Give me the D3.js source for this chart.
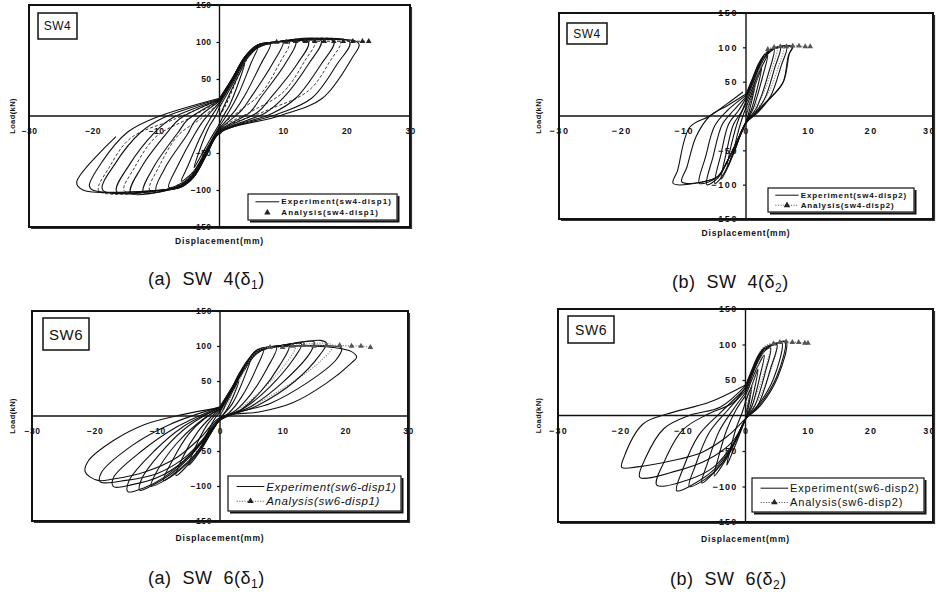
<!DOCTYPE html>
<html>
<head>
<meta charset="utf-8">
<script src="https://cdn.jsdelivr.net/npm/d3@7"></script>
<style>
  body { margin: 0; background: #fff; }
  svg { display: block; }
  text { font-family: "Liberation Sans", Arial, sans-serif; fill: #111; }
</style>
</head>
<body>
<svg id="chart" width="937" height="595"></svg>
<script>
//-----DATA-----//
// displacement (mm), load (kN)
const xTicks = [-30, -20, -10, 0, 10, 20, 30];
const yTicks = [150, 100, 50, -50, -100, -150];

// SW4, delta 1
const sw4Disp1Exp = [
    [[0,0],[1.5,28],[3,55],[4,72],[3.2,50],[1.6,15],[0.6,0],[0,-10],[-1.5,-32],[-3,-55],[-4,-70],[-3.2,-48],[-1.6,-14],[-0.6,0],[0,12]],
    [[0,12],[2,42],[4,74],[6,92],[5,72],[3,30],[1.5,6],[0,-14],[-2,-44],[-4,-74],[-6,-88],[-5,-68],[-3,-28],[-1.5,-4],[0,16]],
    [[0,16],[2,45],[4,75],[6,92],[8,97],[6.5,70],[4,28],[2.5,8],[0,-17],[-2,-46],[-4,-76],[-6,-91],[-8,-96],[-6.5,-66],[-4,-26],[-2.5,-6],[0,18]],
    [[0,18],[2,47],[4,77],[6,93],[8,98],[10,100],[8.3,70],[5,26],[3.5,8],[0,-19],[-2,-48],[-4,-78],[-6,-93],[-8,-99],[-10,-100],[-8.3,-66],[-5,-24],[-3.8,-6],[0,20]],
    [[0,20],[2,48],[4,78],[6,94],[8,98],[12,101],[10.3,70],[6.5,25],[4.8,5],[0,-20],[-2,-49],[-4,-79],[-6,-94],[-8,-100],[-12,-103],[-10.3,-68],[-6.5,-22],[-5,-5],[0,21]],
    [[0,21],[2,49],[4,79],[6,95],[8,99],[14,100],[12.2,70],[8,24],[6,5],[0,-21],[-2,-50],[-4,-80],[-6,-95],[-8,-100],[-14,-104],[-12.2,-68],[-8.2,-22],[-6.3,-4],[0,22]],
    [[0,22],[2,50],[4,80],[6,95],[8,99],[16,102],[14,70],[10,24],[7.2,4],[0,-22],[-2,-51],[-4,-81],[-6,-95],[-9,-100],[-16.2,-102],[-14.2,-66],[-10.2,-22],[-7.5,-3],[0,22]],
    [[0,22],[2,50],[4,80],[6,96],[9,100],[18,101],[16,70],[12,24],[8.2,3],[0,-22],[-2,-51],[-4,-81],[-6,-95],[-9,-100],[-18.4,-100],[-16.4,-64],[-12.4,-22],[-9,-3],[0,23]],
    [[0,23],[2,50],[4,80],[6,96],[9,100],[20.5,100],[18.5,70],[14.5,24],[9,2],[0,-23],[-2,-52],[-4,-82],[-6,-96],[-9,-100],[-20,-100],[-20.5,-94],[-18.5,-62],[-14.5,-22],[-10,-2],[0,24]],
    [[0,24],[2,51],[4,80],[6,96],[9,100],[21.5,101],[22,96],[21,80],[16.2,24],[9.4,0],[0,-23],[-2,-52],[-4,-82],[-6,-96],[-9,-100],[-21.5,-100],[-22.5,-90],[-16.3,-28]]
];
const sw4Disp1AnaLoops = [
    [[0,18],[2,47],[4,76],[6,93],[8,98],[11,100],[9.5,72],[6.5,30],[3,6],[0,-16],[-2,-45],[-4,-75],[-6,-92],[-8,-98],[-11,-100],[-9.5,-68],[-6.5,-26],[-3,-4],[0,18]],
    [[0,20],[2,48],[4,78],[6,94],[8,99],[15,101],[13.4,74],[10,32],[5,6],[0,-18],[-2,-47],[-4,-77],[-6,-93],[-8,-99],[-15,-101],[-13.4,-70],[-10,-28],[-5,-4],[0,20]],
    [[0,22],[2,50],[4,79],[6,95],[8,99],[19,101],[17.4,74],[14,34],[7,6],[0,-20],[-2,-49],[-4,-79],[-6,-94],[-8,-99],[-19,-101],[-17.4,-70],[-14,-30],[-7,-4],[0,22]]
];
const sw4Disp1Ana = [[0,0],[1,15],[2,35],[3,55],[4,72],[5,86],[6,94],[7.5,98],[9,100],[10.5,100],[12,101],[13.5,101],[15,101],[16.5,101],[18,101],[19.5,101],[21,101],[22.5,101],[23.5,101]];

// SW4, delta 2
const sw4Disp2Exp = [
    [[0,0],[0.8,25],[1.5,45],[1,25],[0.3,0],[0,-8],[-1,-30],[-2,-55],[-1.4,-28],[-0.5,0],[0,12]],
    [[0,12],[1,35],[2,58],[2.5,70],[1.8,40],[0.8,8],[0,-8],[-1,-30],[-2,-55],[-3,-75],[-2.3,-40],[-1.2,-5],[0,18]],
    [[0,18],[1,40],[2,62],[3,80],[3.5,88],[2.6,55],[1.2,12],[0,-10],[-1,-30],[-2,-52],[-3,-76],[-4,-92],[-3.2,-55],[-2,-12],[-0.8,5],[0,22]],
    [[0,22],[1,45],[2,68],[3,85],[4.5,97],[3.6,62],[1.8,14],[0,-10],[-1,-30],[-2,-52],[-3,-74],[-4,-90],[-5,-98],[-4,-55],[-2.8,-12],[-1.2,8],[0,26]],
    [[0,26],[1,48],[2,70],[3,86],[4,95],[5.5,100],[4.6,70],[3,25],[1.5,5],[0,-10],[-1.5,-38],[-3,-66],[-4.5,-90],[-6.3,-100],[-5.3,-60],[-3.8,-12],[-2,8],[0,28]],
    [[0,28],[1,50],[2,72],[3,88],[4.5,98],[6.5,101],[5.6,72],[4,30],[2,6],[0,-10],[-1.5,-38],[-3,-66],[-4.5,-88],[-6,-96],[-7.5,-98],[-6.5,-60],[-5,-14],[-3,8],[0,30]],
    [[0,30],[1,52],[2,74],[3,89],[4.5,98],[7.5,100],[7,92],[6,50],[3.5,23],[1.8,8],[0,-10],[-1.5,-38],[-3,-66],[-4.5,-88],[-7,-96],[-10.3,-96],[-9.5,-75],[-8,-30],[-5.8,0],[-3,15],[0,32]],
    [[0,32],[1,54],[2,76],[3,90],[4.5,99],[7.4,101],[6.8,88],[5.9,48],[3.5,22],[1.8,6],[0,-10],[-1.5,-38],[-3,-66],[-4.5,-88],[-7,-96],[-11.7,-98],[-11,-80],[-9,-16],[-5.8,0],[-3,18],[-0.5,35]]
];
const sw4Disp2AnaLoops = [
    [[0,5],[1,35],[2,62],[3,84],[4,96],[5,100],[4.2,70],[2.6,30],[1,8],[0,-5]],
    [[0,10],[1,38],[2,66],[3,88],[4,98],[6,101],[5.2,72],[3.5,32],[1.5,8],[0,-6]]
];
const sw4Disp2Ana = [[0,0],[0.5,15],[1,30],[1.5,45],[2,60],[2.5,75],[3,88],[3.5,97],[4.5,100],[5.5,101],[6.5,101],[7.5,102],[8.5,102],[9.5,101],[10.3,101]];

// SW6, delta 1
const sw6Disp1Exp = [
    [[0,0],[1,18],[2,35],[3,50],[2.2,30],[1,8],[0,-4],[-1,-18],[-2,-32],[-3,-45],[-2.2,-28],[-1,-6],[0,6]],
    [[0,6],[1.5,30],[3,58],[5,85],[4,58],[2,18],[0,-4],[-1.5,-25],[-3,-48],[-5,-70],[-4,-46],[-2,-12],[0,8]],
    [[0,8],[1.5,32],[3,60],[5,86],[7,97],[5.8,68],[3.5,28],[1.5,5],[0,-5],[-2,-32],[-4,-58],[-7,-85],[-6,-60],[-3.5,-22],[-1.5,-2],[0,10]],
    [[0,10],[2,38],[4,68],[6,90],[9,98],[7.5,68],[5,32],[2.5,8],[0,-5],[-2,-30],[-4,-56],[-6.5,-78],[-9,-92],[-7.5,-62],[-5,-26],[-2.5,-4],[0,10]],
    [[0,10],[2,38],[4,68],[6,92],[8,98],[11,100],[9.5,72],[6.5,35],[3.5,10],[0,-6],[-2,-30],[-4,-55],[-7,-80],[-9,-93],[-11,-100],[-10,-78],[-7,-40],[-3.5,-10],[0,11]],
    [[0,11],[2,40],[4,70],[6,92],[9,99],[13,103],[12,85],[8,42],[4,12],[0,-6],[-2.5,-34],[-5,-60],[-8,-84],[-11,-100],[-12.8,-106],[-12.5,-90],[-9,-48],[-5,-14],[0,12]],
    [[0,12],[2,40],[4,70],[6,93],[10,101],[15,106],[14.5,92],[10,48],[5,14],[0,-6],[-3,-38],[-6,-66],[-9,-88],[-12,-102],[-14.7,-108],[-14.5,-92],[-10.5,-50],[-6,-16],[0,12]],
    [[0,12],[2,40],[4,72],[6,94],[11,102],[16,108],[17,104],[16,88],[12,50],[6,15],[0,-6],[-3,-38],[-6,-66],[-10,-88],[-14,-98],[-17,-101],[-17,-88],[-12.5,-50],[-7,-16],[0,13]],
    [[0,13],[2,42],[4,72],[6,94],[12,100],[18,100],[19.4,97],[18.5,80],[14,48],[8,18],[0,-4],[-3,-36],[-6,-62],[-10,-82],[-15,-92],[-19.1,-94],[-19,-82],[-14,-42],[-8,-12],[0,13]],
    [[0,13],[2,42],[4,72],[6,95],[12,100],[18,98],[21,92],[21.8,84],[21,76],[17,47],[11.6,19],[6.4,6],[0,-2],[-3,-30],[-7,-60],[-12,-80],[-17,-90],[-19.5,-92],[-21.5,-80],[-21,-64],[-17,-35],[-12,-12],[-6,2],[0,12]]
];
const sw6Disp1AnaLoops = [
    [[0,5],[2,35],[4,66],[6,90],[8,97],[12,100],[10.5,75],[7,40],[3,10],[0,-3]],
    [[0,8],[2,38],[4,68],[6,92],[10,99],[18,101],[16,78],[11,45],[5,14],[0,-3]]
];
const sw6Disp1Ana = [[0,0],[1,15],[2,32],[3,50],[4,68],[5,83],[6,93],[7,97],[8,98],[10,98],[11.6,100],[13.4,101],[15,100],[17,101],[19.1,101],[21,100],[22.5,100],[24,98]];

// SW6, delta 2
const sw6Disp2Exp = [
    [[0,0],[0.5,20],[1,40],[0.6,18],[0.2,0],[0,-5],[-1,-28],[-2,-50],[-3,-70],[-2.5,-50],[-1.5,-18],[-0.5,5],[0,20]],
    [[0,20],[1,42],[2,65],[1.5,40],[0.6,8],[0,-5],[-1.5,-35],[-3,-60],[-5,-85],[-4.3,-58],[-3,-20],[-1.5,8],[0,28]],
    [[0,28],[1,50],[2,70],[3,85],[2.3,55],[1,12],[0,-5],[-2,-42],[-4,-70],[-7,-95],[-6,-65],[-4.2,-22],[-2,8],[0,32]],
    [[0,32],[1,55],[2,76],[3,90],[4,95],[3.2,62],[1.5,14],[0,-5],[-2,-42],[-4,-70],[-6.5,-90],[-9,-100],[-8,-70],[-5.8,-24],[-3,6],[0,35]],
    [[0,35],[1,58],[2,78],[3,92],[5,100],[4,66],[2,15],[0,-5],[-2,-42],[-5,-76],[-8,-95],[-11,-106],[-10,-75],[-7.5,-28],[-4,4],[0,38]],
    [[0,38],[1,60],[2,80],[3,93],[4.5,100],[5.8,103],[4.4,50],[1.8,12],[0.2,-3],[-2,-40],[-5,-72],[-9,-90],[-14.2,-98],[-13,-65],[-10,-20],[-6,2],[-2,18],[0,40]],
    [[0,40],[1,62],[2,82],[3,94],[5,101],[6.3,104],[5,55],[2,12],[0.2,-3],[-2,-36],[-6,-62],[-11,-78],[-16.9,-87],[-16,-60],[-13,-18],[-9,0],[-4,12],[0,42]],
    [[0,42],[1,64],[2,84],[3,95],[5,102],[6.5,104],[5.2,55],[2.2,12],[0.2,-3],[-3,-30],[-7,-52],[-12,-64],[-17,-72],[-19.8,-73],[-19.5,-60],[-16.4,-12],[-12.6,2],[-5.7,19],[0,43]]
];
const sw6Disp2AnaLoops = [
    [[0,10],[0.5,35],[1,55],[2,80],[3,95],[4,100],[3.3,70],[2,35],[0.8,10],[0,-3]],
    [[0,15],[0.5,40],[1,60],[2,84],[3,97],[5,102],[4.2,68],[2.5,30],[1,8],[0,-3]]
];
const sw6Disp2Ana = [[0,0],[0.5,20],[1,38],[1.5,55],[2,70],[2.5,82],[3,92],[3.5,98],[4.5,101],[5.5,103],[6.5,104],[7.5,103],[8.5,103],[9.5,102],[10,102]];

//-----LAYOUT-----//
const panels = [
    {
        exp: sw4Disp1Exp, anaLoops: sw4Disp1AnaLoops, ana: sw4Disp1Ana, markFrom: 9,
        anaStyle: "dash", legendLine: false,
        left: 29, right: 410, top: 5, bottom: 227,
        tickFont: 8.5, tickSpacing: 0.4,
        tag: "SW4", tagBox: [38, 13, 39, 26], tagFont: 12,
        legend: [248, 194, 149, 26], legendFont: 8, legendSpacing: 1.1, legendBold: true, legendItalic: false,
        expLabel: "Experiment(sw4-disp1)", anaLabel: "Analysis(sw4-disp1)",
        xTitleY: 244, yTitleX: 12,
        caption: ["(a)  SW  4(δ", "1", ")"], capX: 148, capY: 285
    },
    {
        exp: sw4Disp2Exp, anaLoops: sw4Disp2AnaLoops, ana: sw4Disp2Ana, markFrom: 3.5,
        anaStyle: "dot", legendLine: true,
        left: 559, right: 933, top: 13, bottom: 219,
        tickFont: 9, tickSpacing: 1.6,
        tag: "SW4", tagBox: [567, 23, 40, 21], tagFont: 12,
        legend: [768, 188, 146, 24], legendFont: 8, legendSpacing: 0.9, legendBold: true, legendItalic: false,
        expLabel: "Experiment(sw4-disp2)", anaLabel: "Analysis(sw4-disp2)",
        xTitleY: 236, yTitleX: 538,
        caption: ["(b)  SW  4(δ", "2", ")"], capX: 672, capY: 288
    },
    {
        exp: sw6Disp1Exp, anaLoops: sw6Disp1AnaLoops, ana: sw6Disp1Ana, markFrom: 8,
        anaStyle: "dot", legendLine: true,
        left: 32, right: 408, top: 311, bottom: 521,
        tickFont: 8.5, tickSpacing: 0.6,
        tag: "SW6", tagBox: [43, 318, 46, 32], tagFont: 15,
        legend: [228, 476, 173, 35], legendFont: 11.5, legendSpacing: 0.6, legendBold: false, legendItalic: true,
        expLabel: "Experiment(sw6-disp1)", anaLabel: "Analysis(sw6-disp1)",
        xTitleY: 541, yTitleX: 12,
        caption: ["(a)  SW  6(δ", "1", ")"], capX: 148, capY: 584
    },
    {
        exp: sw6Disp2Exp, anaLoops: sw6Disp2AnaLoops, ana: sw6Disp2Ana, markFrom: 4.5,
        anaStyle: "dot", legendLine: true,
        left: 558, right: 933, top: 309, bottom: 522,
        tickFont: 9, tickSpacing: 1.2,
        tag: "SW6", tagBox: [568, 316, 46, 27], tagFont: 14,
        legend: [752, 478, 172, 34], legendFont: 11, legendSpacing: 0.8, legendBold: false, legendItalic: false,
        expLabel: "Experiment(sw6-disp2)", anaLabel: "Analysis(sw6-disp2)",
        xTitleY: 542, yTitleX: 538,
        caption: ["(b)  SW  6(δ", "2", ")"], capX: 670, capY: 585
    }
];

const svg = d3.select("#chart");
const pageWidth = 937;

function drawPanel(p) {
    const x = d3.scaleLinear().domain([-30, 30]).range([p.left, p.right]);
    const y = d3.scaleLinear().domain([-150, 150]).range([p.bottom, p.top]);
    const g = svg.append("g");

    g.append("rect")
        .attr("x", p.left).attr("y", p.top)
        .attr("width", p.right - p.left).attr("height", p.bottom - p.top)
        .attr("fill", "#fff");

    // y tick labels sit left of the vertical zero line
    g.append("g")
        .attr("transform", `translate(${x(0)},0)`)
        .call(d3.axisLeft(y).tickValues(yTicks).tickSize(3).tickPadding(5))
        .call(a => a.select(".domain").remove())
        .call(a => a.selectAll(".tick line").attr("stroke", "#111").attr("stroke-width", 1.2))
        .call(a => a.selectAll(".tick text")
            .attr("fill", "#111")
            .style("font-size", p.tickFont + "px")
            .style("font-weight", "bold")
            .style("letter-spacing", p.tickSpacing + "px")
            .style("font-family", "'Liberation Sans', Arial, sans-serif"));

    g.append("g")
        .attr("transform", `translate(0,${y(0)})`)
        .call(d3.axisBottom(x).tickValues(xTicks).tickSize(0).tickPadding(12))
        .call(a => a.select(".domain").remove())
        .call(a => a.selectAll(".tick text")
            .attr("fill", "#111")
            // keep the last label inside the page when the frame reaches the edge
            .attr("dx", d => x(d) + 7 > pageWidth ? -4 : 0)
            .style("font-size", p.tickFont + "px")
            .style("font-weight", "bold")
            .style("letter-spacing", p.tickSpacing + "px")
            .style("font-family", "'Liberation Sans', Arial, sans-serif"));

    const line = d3.line()
        .x(d => x(d[0]))
        .y(d => y(d[1]))
        .curve(d3.curveCatmullRom.alpha(0.5));

    // analysis loops
    g.append("g")
        .selectAll("path")
        .data(p.anaLoops)
        .join("path")
        .attr("d", line)
        .attr("fill", "none")
        .attr("stroke", p.anaStyle === "dash" ? "#222" : "#888")
        .attr("stroke-width", p.anaStyle === "dash" ? 0.9 : 1.1)
        .attr("stroke-dasharray", p.anaStyle === "dash" ? "3,2" : "1.2,1.4");

    // experiment loops
    g.append("g")
        .selectAll("path")
        .data(p.exp)
        .join("path")
        .attr("d", line)
        .attr("fill", "none")
        .attr("stroke", "#111")
        .attr("stroke-width", 1.1);

    // analysis envelope
    g.append("path")
        .datum(p.ana)
        .attr("d", line)
        .attr("fill", "none")
        .attr("stroke", p.anaStyle === "dash" ? "#222" : "#777")
        .attr("stroke-width", 1.1)
        .attr("stroke-dasharray", p.anaStyle === "dash" ? "3,2" : "1.2,1.4");

    g.append("g")
        .selectAll("path")
        .data(p.ana.filter(d => d[0] >= p.markFrom))
        .join("path")
        .attr("transform", d => `translate(${x(d[0])},${y(d[1])})`)
        .attr("d", d3.symbol(d3.symbolTriangle, 14))
        .attr("fill", p.anaStyle === "dash" ? "#222" : "#555");

    // zero lines
    g.append("line")
        .attr("x1", x(0)).attr("x2", x(0))
        .attr("y1", p.top).attr("y2", p.bottom)
        .attr("stroke", "#111").attr("stroke-width", 1.4);
    g.append("line")
        .attr("x1", p.left).attr("x2", p.right)
        .attr("y1", y(0)).attr("y2", y(0))
        .attr("stroke", "#111").attr("stroke-width", 1.4);

    // frame with a slight shadow on right and bottom
    g.append("rect")
        .attr("x", p.left).attr("y", p.top)
        .attr("width", p.right - p.left).attr("height", p.bottom - p.top)
        .attr("fill", "none").attr("stroke", "#111").attr("stroke-width", 2);
    g.append("path")
        .attr("d", `M${p.right + 1.5},${p.top + 2}V${p.bottom + 1.5}H${p.left + 2}`)
        .attr("fill", "none").attr("stroke", "#333").attr("stroke-width", 1.2);

    // specimen tag
    const [tx, ty, tw, th] = p.tagBox;
    g.append("rect")
        .attr("x", tx).attr("y", ty).attr("width", tw).attr("height", th)
        .attr("fill", "#fff").attr("stroke", "#111").attr("stroke-width", 1.5);
    g.append("text")
        .attr("x", tx + tw / 2).attr("y", ty + th / 2)
        .attr("text-anchor", "middle")
        .attr("dominant-baseline", "central")
        .style("font-size", p.tagFont + "px")
        .style("letter-spacing", "0.5px")
        .text(p.tag);

    // legend
    const [lx, ly, lw, lh] = p.legend;
    g.append("path")
        .attr("d", `M${lx + lw + 1.5},${ly + 2}V${ly + lh + 1.5}H${lx + 2}`)
        .attr("fill", "none").attr("stroke", "#111").attr("stroke-width", 2);
    g.append("rect")
        .attr("x", lx).attr("y", ly).attr("width", lw).attr("height", lh)
        .attr("fill", "#fff").attr("stroke", "#111").attr("stroke-width", 1.2);

    const rowY = [ly + lh * 0.3, ly + lh * 0.72];
    const sampleX0 = lx + lw * 0.05, sampleX1 = lx + lw * 0.21;
    g.append("line")
        .attr("x1", sampleX0).attr("x2", sampleX1)
        .attr("y1", rowY[0]).attr("y2", rowY[0])
        .attr("stroke", "#111").attr("stroke-width", 1);
    if (p.legendLine) {
        g.append("line")
            .attr("x1", sampleX0).attr("x2", sampleX1)
            .attr("y1", rowY[1]).attr("y2", rowY[1])
            .attr("stroke", "#666").attr("stroke-width", 1.1)
            .attr("stroke-dasharray", "1.2,1.4");
    }
    g.append("path")
        .attr("transform", `translate(${(sampleX0 + sampleX1) / 2},${rowY[1]})`)
        .attr("d", d3.symbol(d3.symbolTriangle, 18))
        .attr("fill", "#222");

    g.selectAll(".legend-label")
        .data([p.expLabel, p.anaLabel])
        .join("text")
        .attr("class", "legend-label")
        .attr("x", sampleX1 + 2)
        .attr("y", (d, i) => rowY[i])
        .attr("dominant-baseline", "central")
        .style("font-size", p.legendFont + "px")
        .style("font-weight", p.legendBold ? "bold" : "normal")
        .style("font-style", p.legendItalic ? "italic" : "normal")
        .style("letter-spacing", p.legendSpacing + "px")
        .text(d => d);

    // axis titles
    g.append("text")
        .attr("x", (p.left + p.right) / 2)
        .attr("y", p.xTitleY)
        .attr("text-anchor", "middle")
        .style("font-size", "8.5px")
        .style("font-weight", "bold")
        .style("letter-spacing", "0.8px")
        .text("Displacement(mm)");
    g.append("text")
        .attr("transform", `translate(${p.yTitleX},${(p.top + p.bottom) / 2}) rotate(-90)`)
        .attr("text-anchor", "middle")
        .attr("dominant-baseline", "central")
        .style("font-size", "7.5px")
        .style("font-weight", "bold")
        .style("letter-spacing", "0.4px")
        .text("Load(kN)");

    // caption under the chart
    const cap = g.append("text")
        .attr("x", p.capX).attr("y", p.capY)
        .style("font-size", "18px")
        .style("letter-spacing", "0.5px")
        .style("white-space", "pre")
        .attr("fill", "#333");
    cap.append("tspan").text(p.caption[0]);
    cap.append("tspan").attr("dy", 4).style("font-size", "12px").text(p.caption[1]);
    cap.append("tspan").attr("dy", -4).text(p.caption[2]);
}

panels.forEach(drawPanel);
</script>
</body>
</html>
